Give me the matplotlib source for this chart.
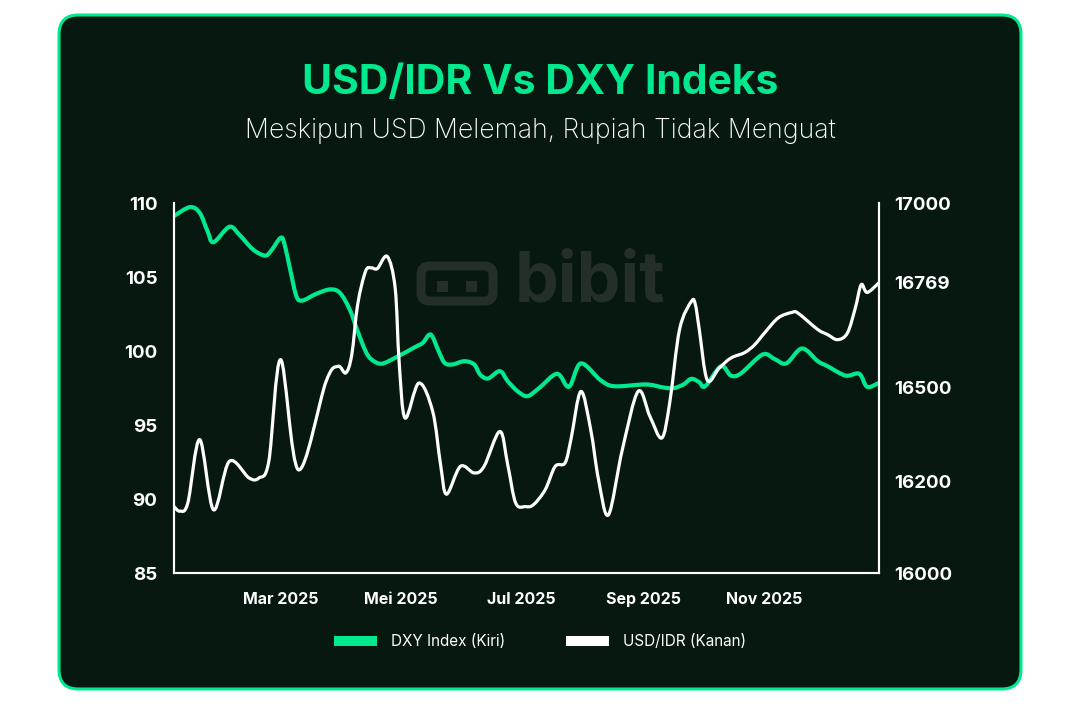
import numpy as np
import pandas as pd
import matplotlib
matplotlib.use("Agg")
import matplotlib.pyplot as plt
import matplotlib.dates as mdates
from matplotlib.patches import FancyBboxPatch, Patch, Rectangle, PathPatch
from matplotlib.path import Path
from matplotlib.transforms import IdentityTransform

plt.rcParams['font.family'] = ['Inter', 'DejaVu Sans']

# DXY index (left axis)
dxy_dates = ["2025-01-06", "2025-01-14", "2025-01-19", "2025-01-23", "2025-01-26",
             "2025-02-03", "2025-02-08", "2025-02-15", "2025-02-21", "2025-02-24",
             "2025-03-01", "2025-03-03", "2025-03-06", "2025-03-09", "2025-03-12",
             "2025-03-19", "2025-03-26", "2025-03-31", "2025-04-05", "2025-04-09",
             "2025-04-13", "2025-04-16", "2025-04-21", "2025-04-28", "2025-05-08",
             "2025-05-12", "2025-05-16", "2025-05-20", "2025-05-23", "2025-05-27",
             "2025-06-02", "2025-06-07", "2025-06-10", "2025-06-14", "2025-06-20",
             "2025-06-24", "2025-06-29", "2025-07-04", "2025-07-10", "2025-07-19",
             "2025-07-25", "2025-07-31", "2025-08-10", "2025-08-17", "2025-09-02",
             "2025-09-11", "2025-09-16", "2025-09-21", "2025-09-25", "2025-09-29",
             "2025-10-02", "2025-10-10", "2025-10-15", "2025-10-20", "2025-10-31",
             "2025-11-06", "2025-11-12", "2025-11-20", "2025-11-28", "2025-12-03",
             "2025-12-12", "2025-12-19", "2025-12-23", "2025-12-29"]
dxy_values = [109.12, 109.72, 109.34, 108.09, 107.35,
              108.39, 107.87, 106.86, 106.45, 106.74,
              107.65, 107.20, 105.39, 103.70, 103.41,
              103.86, 104.16, 103.93, 102.80, 101.34,
              99.99, 99.43, 99.14, 99.54, 100.26,
              100.55, 101.11, 99.99, 99.20, 99.09,
              99.31, 99.09, 98.41, 98.14, 98.64,
              97.96, 97.28, 96.95, 97.51, 98.46,
              97.58, 99.16, 98.03, 97.62, 97.74,
              97.53, 97.49, 97.74, 98.12, 97.89,
              97.62, 98.97, 98.34, 98.48, 99.76,
              99.47, 99.16, 100.17, 99.31, 98.97,
              98.34, 98.46, 97.58, 97.85]

# USD/IDR (right axis)
idr_dates = ["2025-01-06", "2025-01-09", "2025-01-13", "2025-01-19", "2025-01-26",
             "2025-02-03", "2025-02-13", "2025-02-18", "2025-02-23", "2025-03-01",
             "2025-03-10", "2025-03-24", "2025-03-30", "2025-04-03", "2025-04-06",
             "2025-04-09", "2025-04-13", "2025-04-16", "2025-04-19", "2025-04-24",
             "2025-04-28", "2025-04-30", "2025-05-03", "2025-05-10", "2025-05-17",
             "2025-05-21", "2025-05-24", "2025-05-31", "2025-06-07", "2025-06-12",
             "2025-06-20", "2025-06-24", "2025-06-28", "2025-07-03", "2025-07-07",
             "2025-07-13", "2025-07-18", "2025-07-23", "2025-07-26", "2025-07-31",
             "2025-08-05", "2025-08-09", "2025-08-14", "2025-08-21", "2025-08-29",
             "2025-09-04", "2025-09-10", "2025-09-14", "2025-09-19", "2025-09-25",
             "2025-09-27", "2025-09-29", "2025-10-03", "2025-10-09", "2025-10-15",
             "2025-10-22", "2025-10-27", "2025-11-01", "2025-11-08", "2025-11-15",
             "2025-11-18", "2025-11-28", "2025-12-03", "2025-12-08", "2025-12-13",
             "2025-12-17", "2025-12-20", "2025-12-23", "2025-12-29"]
idr_values = [16145, 16135, 16153, 16334, 16138,
              16264, 16211, 16211, 16264, 16572,
              16237, 16516, 16555, 16538, 16584,
              16713, 16802, 16812, 16810, 16845,
              16755, 16567, 16403, 16512, 16424,
              16253, 16172, 16248, 16227, 16248,
              16360, 16253, 16153, 16145, 16149,
              16182, 16248, 16259, 16334, 16488,
              16366, 16205, 16127, 16301, 16488,
              16408, 16339, 16451, 16649, 16721,
              16713, 16649, 16520, 16550, 16576,
              16590, 16610, 16640, 16679, 16693,
              16691, 16649, 16636, 16623, 16640,
              16704, 16764, 16744, 16769]

left_ticks = [85, 90, 95, 100, 105, 110]
right_ticks = [16000, 16200, 16500, 16769, 17000]
# where each right-axis label sits (fraction of axis height)
right_tick_pos = [0.0, 0.2476, 0.5008, 0.7846, 1.0]
month_ticks = ["2025-03-01", "2025-05-01", "2025-07-01", "2025-09-01", "2025-11-01"]
month_labels = ["Mar 2025", "Mei 2025", "Jul 2025", "Sep 2025", "Nov 2025"]

GREEN = "#00E98F"
BG = "#071811"
WM = "#242F2A"

fig = plt.figure(figsize=(10.8, 7.14), dpi=100)
fig.patch.set_facecolor("white")

# card
card = FancyBboxPatch((59 / 1080, 25 / 714), 962 / 1080, 674 / 714,
                      boxstyle="round,pad=0,rounding_size=0.018",
                      transform=fig.transFigure, facecolor=BG, edgecolor=GREEN,
                      linewidth=2.2, zorder=-3, mutation_aspect=1080 / 714)
fig.patches.append(card)

fig.text(0.5, 1 - 83 / 714, "USD/IDR Vs DXY Indeks", ha="center", va="center",
         color=GREEN, fontsize=29.5, fontweight="bold")
fig.text(0.5, 1 - 131 / 714, "Meskipun USD Melemah, Rupiah Tidak Menguat",
         ha="center", va="center", color="white", fontsize=19.2, fontweight="light")

# watermark
icon = FancyBboxPatch((421 / 1080, 1 - 301 / 714), 72 / 1080, 35 / 714,
                      boxstyle="round,pad=0,rounding_size=0.008",
                      transform=fig.transFigure, facecolor="none", edgecolor=WM,
                      linewidth=6.5, zorder=-2, mutation_aspect=1080 / 714)
fig.patches.append(icon)
for sx in (437, 466):
    fig.patches.append(Rectangle((sx / 1080, 1 - 292 / 714), 11 / 1080, 11 / 714,
                                 transform=fig.transFigure, facecolor=WM,
                                 edgecolor="none", zorder=-2))
fig.text(515 / 1080, 1 - 283 / 714, "bibit", ha="left", va="center",
         color=WM, fontsize=50, fontweight="bold", zorder=-2)

ax = fig.add_axes([174 / 1080, 1 - 573 / 714, 705 / 1080, 370 / 714])
ax.set_facecolor("none")
ax2 = ax.twinx()
ax2.set_facecolor("none")

dx = pd.to_datetime(dxy_dates)
di = pd.to_datetime(idr_dates)


def fwd(v):
    return np.interp(v, right_ticks, right_tick_pos)


def inv(p):
    return np.interp(p, right_tick_pos, right_ticks)


ax2.set_yscale("function", functions=(fwd, inv))

ax.set_ylim(85, 110)
ax2.set_ylim(16000, 17000)
ax.set_xlim(pd.Timestamp("2025-01-06"), pd.Timestamp("2025-12-29"))


# smooth curve through the points (cardinal spline in screen space)
def smooth_line(a, dates, values, color, lw):
    pts = a.transData.transform(np.column_stack([mdates.date2num(dates), values]))
    n = len(pts)
    verts = [pts[0]]
    codes = [Path.MOVETO]
    for i in range(n - 1):
        p0 = pts[max(i - 1, 0)]
        p1 = pts[i]
        p2 = pts[i + 1]
        p3 = pts[min(i + 2, n - 1)]
        verts += [p1 + (p2 - p0) / 6, p2 - (p3 - p1) / 6, p2]
        codes += [Path.CURVE4] * 3
    patch = PathPatch(Path(verts, codes), facecolor="none", edgecolor=color,
                      linewidth=lw, capstyle="round", joinstyle="round",
                      transform=IdentityTransform(), zorder=3)
    a.add_artist(patch)


smooth_line(ax, dx, dxy_values, GREEN, 3.0)
smooth_line(ax2, di, idr_values, "white", 2.3)

ax.set_yticks(left_ticks)
ax2.set_yticks(right_ticks)
ax2.set_yticklabels([str(t) for t in right_ticks])
ax2.yaxis.set_minor_locator(matplotlib.ticker.NullLocator())
ax.set_xticks(pd.to_datetime(month_ticks))
ax.set_xticklabels(month_labels)

for a in (ax, ax2):
    for s in a.spines.values():
        s.set_color("white")
        s.set_linewidth(1.5)
    a.spines["top"].set_visible(False)
    a.tick_params(length=0, colors="white", labelsize=13.5)
    for lab in a.get_yticklabels():
        lab.set_fontweight("bold")
ax.tick_params(axis="y", pad=12)
ax2.tick_params(axis="y", pad=11)
ax.tick_params(axis="x", labelsize=11.5, pad=14)
for lab in ax.get_xticklabels():
    lab.set_fontweight("bold")

handles = [Patch(facecolor=GREEN, edgecolor="none", label="DXY Index (Kiri)"),
           Patch(facecolor="white", edgecolor="none", label="USD/IDR (Kanan)")]
leg = fig.legend(handles=handles, loc="center", bbox_to_anchor=(0.5, 1 - 642 / 714),
                 ncol=2, frameon=False, fontsize=11, handlelength=2.8,
                 handleheight=0.55, handletextpad=0.9, columnspacing=4.0)
for t in leg.get_texts():
    t.set_color("white")

fig.savefig("out.png", dpi=100, facecolor=fig.get_facecolor())
